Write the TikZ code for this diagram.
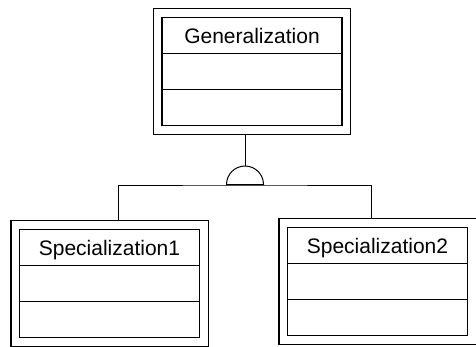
\documentclass[tikz,border=0pt]{standalone}
\usepackage{fontspec}
\setmainfont{Liberation Sans}
\usetikzlibrary{shapes.multipart}
\usetikzlibrary{shapes.geometric}
\usetikzlibrary{fit,positioning}

\newcommand{\cellstrut}{\rule[-9pt]{0pt}{35pt}}

\begin{document}
\begin{tikzpicture}[x=1pt,y=-1pt,
  every node/.style={font=\fontsize{21}{25}\selectfont},
  classbox/.style={rectangle split,rectangle split parts=3,draw,line width=1.2pt,
    minimum width=180pt,inner xsep=0pt,inner ysep=0pt},
  frame/.style={draw,line width=1.2pt,inner sep=8pt},
  link/.style={line width=1pt}
]
\useasboundingbox (0,0) rectangle (476,346);
% classes
\node[classbox] (gen) at (252,71.5)
  {\cellstrut Generalization\nodepart{two}\cellstrut\nodepart{three}\cellstrut};
\node[classbox] (spec1) at (109.5,283.5)
  {\cellstrut Specialization1\nodepart{two}\cellstrut\nodepart{three}\cellstrut};
\node[classbox] (spec2) at (377.5,281.5)
  {\cellstrut Specialization2\nodepart{two}\cellstrut\nodepart{three}\cellstrut};
\node[frame,fit=(gen)] (genf) {};
\node[frame,fit=(spec1)] (spec1f) {};
\node[frame,fit=(spec2)] (spec2f) {};
% generalization symbol
\node[semicircle,draw,line width=1pt,inner sep=0pt,minimum width=37pt,minimum height=18pt,
  anchor=chord center] (hub) at (245,185) {};
\draw[link] (genf.south -| hub.apex) -- (hub.apex);
\draw[link] ([xshift=9pt]spec1f.north) |- (hub.chord center) -| ([xshift=-6pt]spec2f.north);
\end{tikzpicture}
\end{document}
